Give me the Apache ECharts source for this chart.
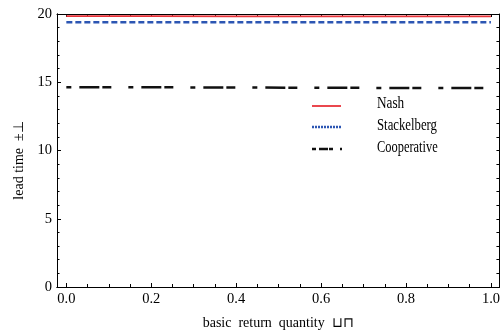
<!DOCTYPE html>
<html>
<head>
<meta charset="utf-8">
<script src="https://cdn.jsdelivr.net/npm/echarts@6/dist/echarts.min.js"></script>
<style>
  html, body { margin: 0; padding: 0; background: #fff; }
  #chart { width: 503px; height: 335px; }
</style>
</head>
<body>
<div id="chart"></div>
<script>
// Basic return quantity (x) sampled across the unit interval
const returnQuantity = [0.0, 0.2, 0.4, 0.6, 0.8, 1.0];

// Lead time under each game structure
const nashLeadTime        = [19.84, 19.84, 19.83, 19.83, 19.83, 19.82];
const stackelbergLeadTime = [19.40, 19.40, 19.40, 19.40, 19.40, 19.40];
const cooperativeLeadTime = [14.64, 14.63, 14.61, 14.60, 14.58, 14.57];

// Tick positions
const xMajorTicks = [0.0, 0.2, 0.4, 0.6, 0.8, 1.0];
const xMinorTicks = [0.05, 0.1, 0.15, 0.25, 0.3, 0.35, 0.45, 0.5, 0.55,
                     0.65, 0.7, 0.75, 0.85, 0.9, 0.95];
const xTopTicks   = [0.0, 0.05, 0.1, 0.15, 0.2, 0.25, 0.3, 0.35, 0.4, 0.45, 0.5,
                     0.55, 0.6, 0.65, 0.7, 0.75, 0.8, 0.85, 0.9, 0.95, 1.0];
const yMajorTicks = [0, 5, 10, 15, 20];
const yMinorTicks = [1, 2, 3, 4, 6, 7, 8, 9, 11, 12, 13, 14, 16, 17, 18, 19];
const yRightTicks = [1, 2, 3, 4, 5, 6, 7, 8, 9, 10, 11, 12, 13, 14, 15, 16, 17, 18, 19];

const seriesNames = ['Nash', 'Stackelberg', 'Cooperative'];

const SERIF = '"Liberation Serif", "Times New Roman", serif';
const INK = '#000';
const X_MIN = -0.022, X_MAX = 1.02;

const frameLine = { show: true, onZero: false, lineStyle: { color: INK, width: 1 } };

function tickOnly(position, values, len) {
  return {
    type: 'value', position: position, min: X_MIN, max: X_MAX,
    axisLine: frameLine,
    axisTick: { show: true, inside: true, length: len, customValues: values,
                lineStyle: { color: INK, width: 1 } },
    axisLabel: { show: false },
    splitLine: { show: false }
  };
}

const chart = echarts.init(document.getElementById('chart'), null, { renderer: 'canvas' });

chart.setOption({
  animation: false,
  backgroundColor: '#fff',
  grid: { left: 57, right: 1, top: 14, bottom: 48, containLabel: false },
  xAxis: [
    {
      type: 'value', position: 'bottom', min: X_MIN, max: X_MAX,
      axisLine: frameLine,
      axisTick: { show: true, inside: true, length: 4, customValues: xMajorTicks,
                  lineStyle: { color: INK, width: 1 } },
      axisLabel: { show: true, customValues: xMajorTicks, margin: 5,
                   formatter: v => v.toFixed(1),
                   fontFamily: SERIF, fontSize: 14.5, color: INK },
      splitLine: { show: false },
      name: 'basic  return  quantity  \u2294\u2293',
      nameLocation: 'middle', nameGap: 29,
      nameTextStyle: { fontFamily: SERIF, fontSize: 14, color: INK }
    },
    tickOnly('bottom', xMinorTicks, 3),
    tickOnly('top', xTopTicks, 3)
  ],
  yAxis: [
    {
      type: 'value', position: 'left', min: 0, max: 20,
      axisLine: frameLine,
      axisTick: { show: true, inside: true, length: 4, customValues: yMajorTicks,
                  lineStyle: { color: INK, width: 1 } },
      axisLabel: { show: true, customValues: yMajorTicks, margin: 5,
                   fontFamily: SERIF, fontSize: 14.5, color: INK },
      splitLine: { show: false },
      name: 'lead time  \u00B1\u22A5',
      nameLocation: 'middle', nameRotate: 90, nameGap: 29,
      nameTextStyle: { fontFamily: SERIF, fontSize: 14, color: INK, padding: [0, 20, 0, 0] }
    },
    {
      type: 'value', position: 'left', min: 0, max: 20,
      axisLine: frameLine,
      axisTick: { show: true, inside: true, length: 2.5, customValues: yMinorTicks,
                  lineStyle: { color: INK, width: 1 } },
      axisLabel: { show: false }, splitLine: { show: false }
    },
    {
      type: 'value', position: 'right', min: 0, max: 20,
      axisLine: frameLine,
      axisTick: { show: true, inside: true, length: 3, customValues: yRightTicks,
                  lineStyle: { color: INK, width: 1 } },
      axisLabel: { show: false }, splitLine: { show: false }
    }
  ],
  series: [
    {
      name: seriesNames[0], type: 'line', showSymbol: false, symbol: 'none',
      data: returnQuantity.map((x, i) => [x, nashLeadTime[i]]),
      lineStyle: { color: '#e8333a', width: 1.8, type: 'solid' },
      z: 3
    },
    {
      name: seriesNames[1], type: 'line', showSymbol: false, symbol: 'none',
      data: returnQuantity.map((x, i) => [x, stackelbergLeadTime[i]]),
      lineStyle: { color: '#2c56b3', width: 2.5, type: [6, 3] },
      z: 3
    },
    {
      name: seriesNames[2], type: 'line', showSymbol: false, symbol: 'none',
      data: returnQuantity.map((x, i) => [x, cooperativeLeadTime[i]]),
      lineStyle: { color: '#111', width: 2.5, type: [5, 8, 20, 3, 9, 17] },
      z: 3
    }
  ],
  // Key with line samples and condensed serif labels
  graphic: [
    { type: 'line', shape: { x1: 312, y1: 106, x2: 341, y2: 106 },
      style: { stroke: '#e8333a', lineWidth: 1.8 } },
    { type: 'text', x: 377, y: 104, scaleX: 0.78,
      style: { text: seriesNames[0], fontFamily: SERIF, fontSize: 17, fill: INK,
               verticalAlign: 'middle' } },
    { type: 'line', shape: { x1: 312, y1: 127, x2: 341, y2: 127 },
      style: { stroke: '#2c56b3', lineWidth: 2.5, lineDash: [2, 1] } },
    { type: 'text', x: 377, y: 126, scaleX: 0.75,
      style: { text: seriesNames[1], fontFamily: SERIF, fontSize: 17, fill: INK,
               verticalAlign: 'middle' } },
    { type: 'line', shape: { x1: 312, y1: 149, x2: 342, y2: 149 },
      style: { stroke: '#111', lineWidth: 2.5, lineDash: [4, 3, 9, 1, 4, 7, 2, 20] } },
    { type: 'text', x: 377, y: 148, scaleX: 0.73,
      style: { text: seriesNames[2], fontFamily: SERIF, fontSize: 17, fill: INK,
               verticalAlign: 'middle' } }
  ]
});
</script>
</body>
</html>
